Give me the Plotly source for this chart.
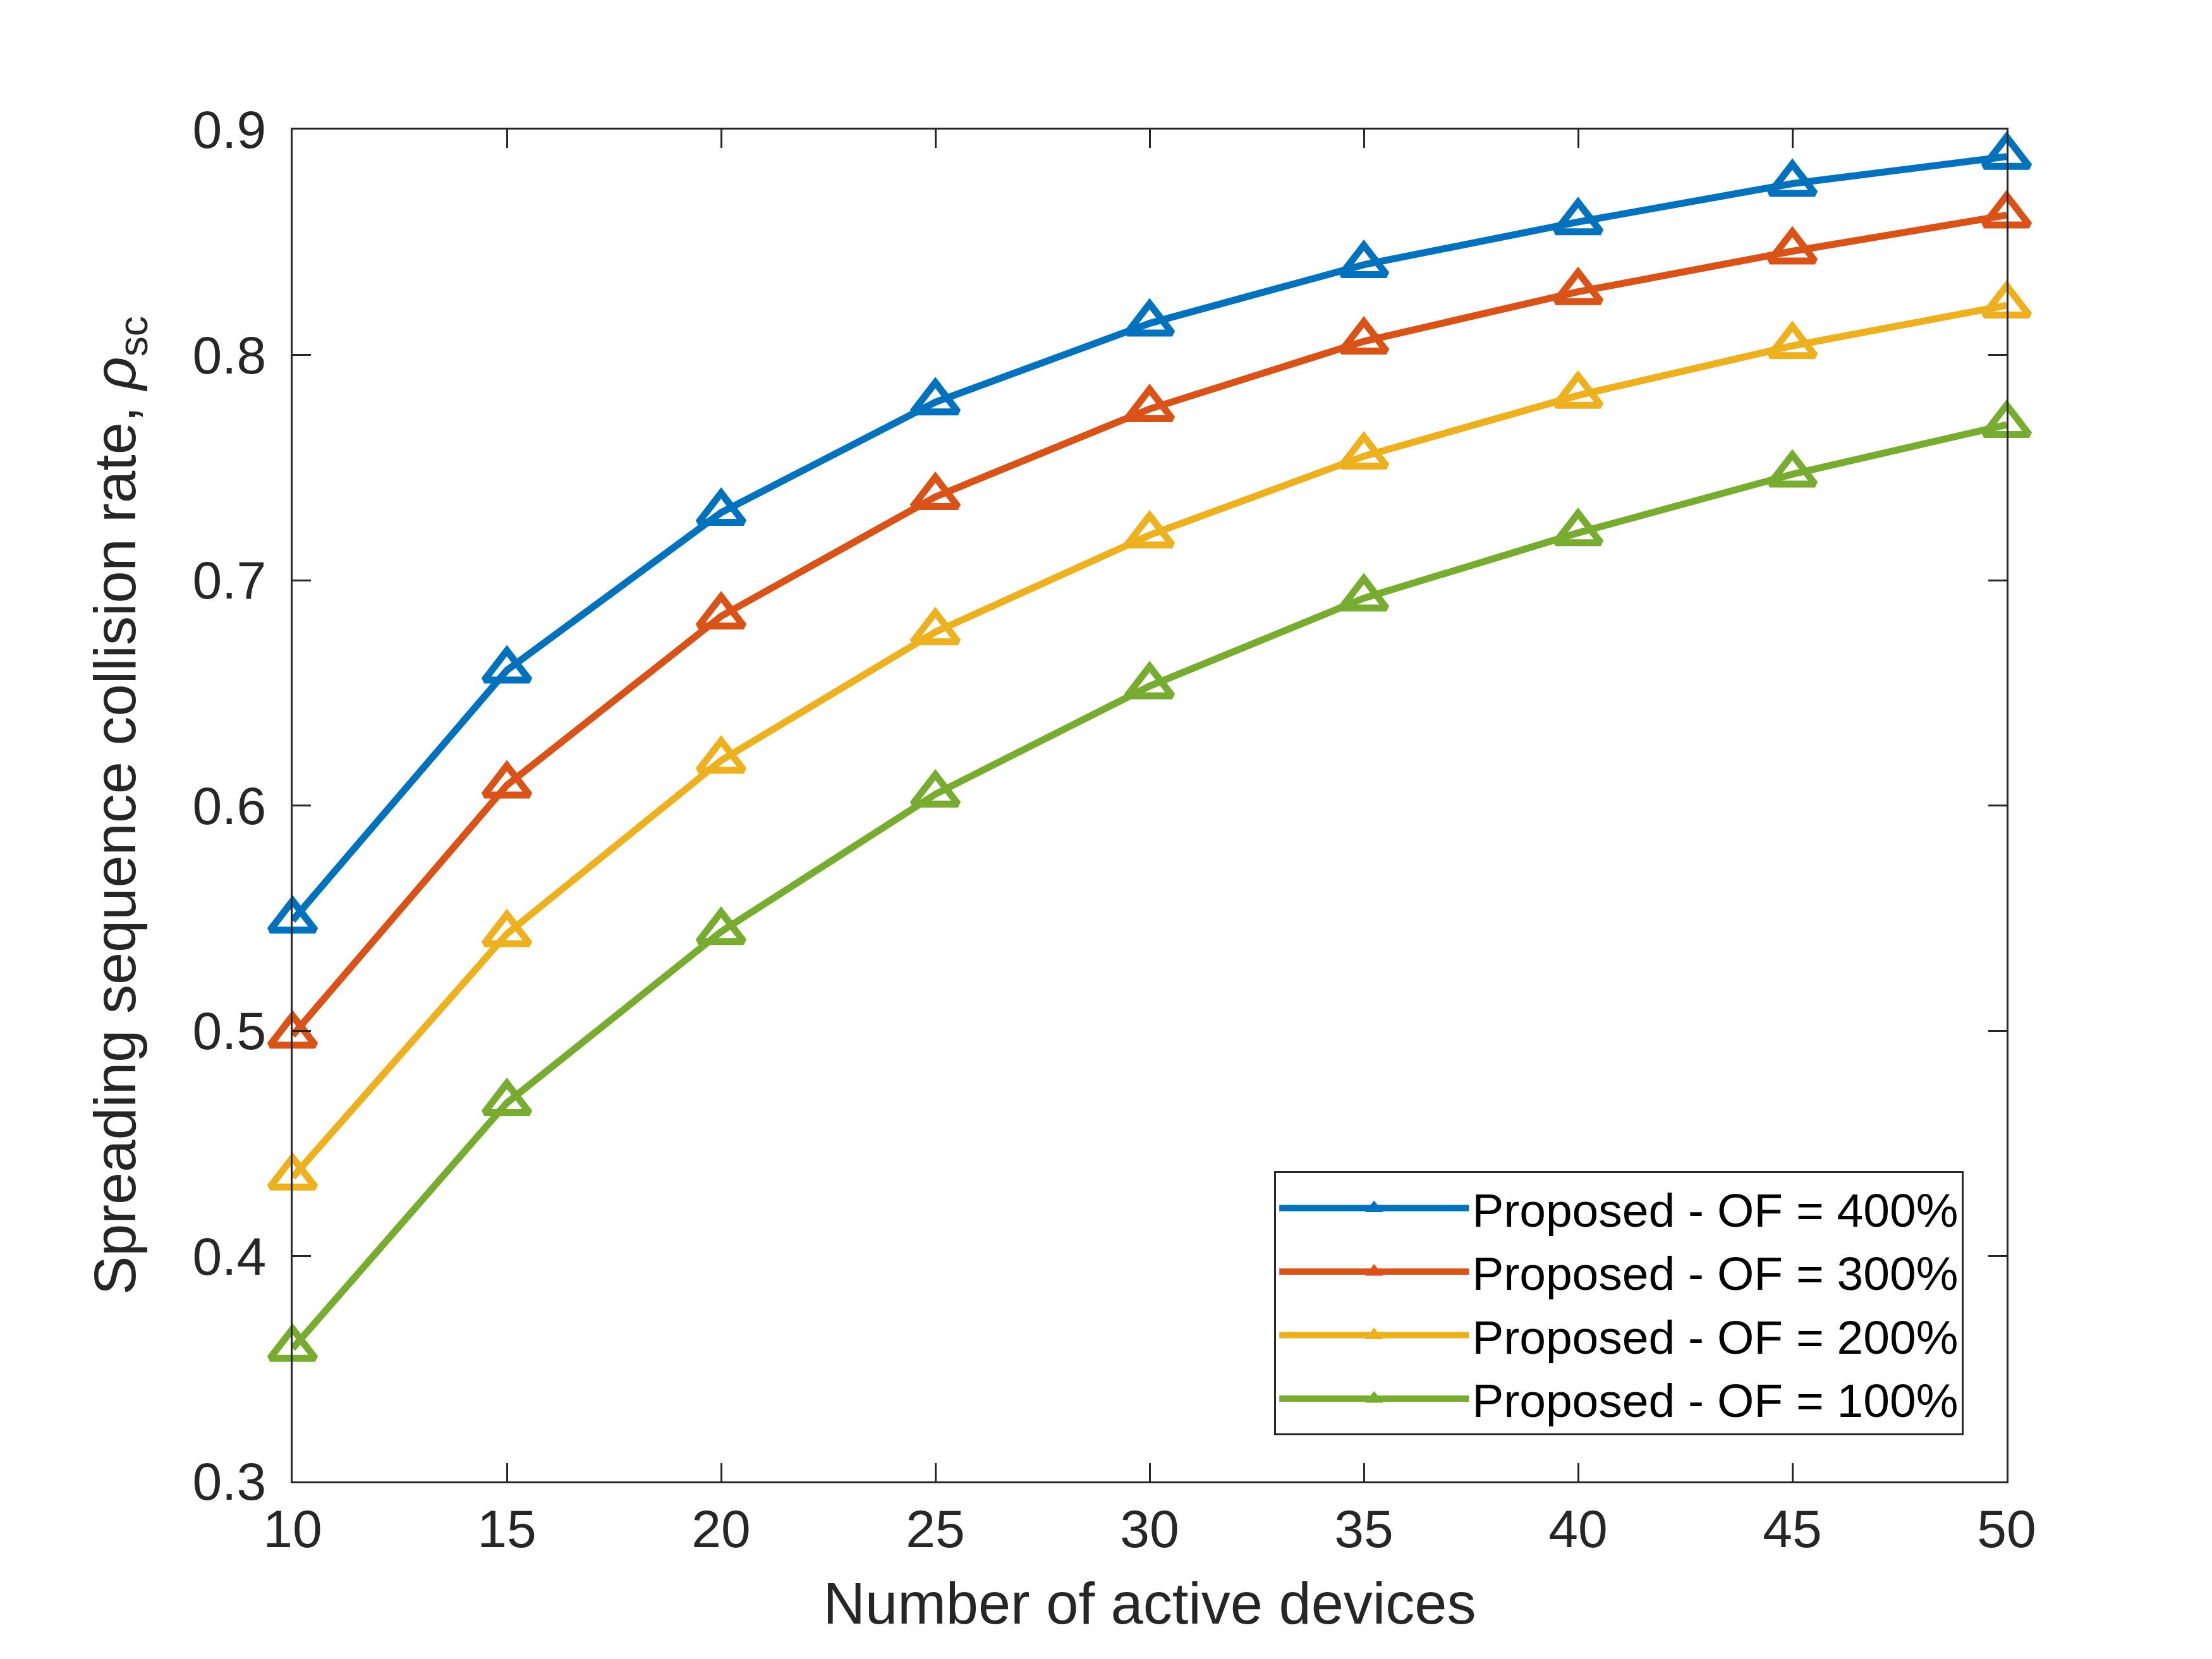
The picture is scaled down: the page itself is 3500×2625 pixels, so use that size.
import plotly.graph_objects as go

# ---- data ----
devices = [10, 15, 20, 25, 30, 35, 40, 45, 50]
series_names = [
    "Proposed - OF = 400%",
    "Proposed - OF = 300%",
    "Proposed - OF = 200%",
    "Proposed - OF = 100%",
]
of400 = [0.549, 0.660, 0.730, 0.779, 0.814, 0.840, 0.859, 0.876, 0.888]
of300 = [0.498, 0.609, 0.684, 0.737, 0.776, 0.806, 0.828, 0.846, 0.862]
of200 = [0.435, 0.543, 0.620, 0.677, 0.720, 0.755, 0.782, 0.804, 0.822]
of100 = [0.359, 0.468, 0.544, 0.605, 0.653, 0.692, 0.721, 0.747, 0.769]
x_ticks = [10, 15, 20, 25, 30, 35, 40, 45, 50]
y_ticks = [0.3, 0.4, 0.5, 0.6, 0.7, 0.8, 0.9]
y_tick_labels = ["0.3", "0.4", "0.5", "0.6", "0.7", "0.8", "0.9"]

colors = ["#0072BD", "#D95319", "#EDB120", "#77AC30"]
all_series = [of400, of300, of200, of100]

FONT = "Liberation Sans, Arial, Helvetica, sans-serif"
TXT = "#262626"

fig = go.Figure()
for name, vals, col in zip(series_names, all_series, colors):
    fig.add_trace(go.Scatter(
        x=devices, y=vals, name=name, mode="lines+markers",
        line=dict(color=col, width=11),
        marker=dict(symbol="triangle-up-open", size=62, color=col,
                    line=dict(color=col, width=11)),
        cliponaxis=False,
    ))

axis_common = dict(
    showgrid=False, zeroline=False, showline=True, linecolor=TXT, linewidth=3,
    mirror="ticks", ticks="inside", ticklen=29, tickwidth=3, tickcolor=TXT,
    tickfont=dict(family=FONT, size=84, color=TXT),
)

fig.update_layout(
    width=3500, height=2625,
    paper_bgcolor="white", plot_bgcolor="white",
    margin=dict(l=455, r=333, t=197, b=289, autoexpand=False),
    font=dict(family=FONT, color=TXT),
    xaxis=dict(
        range=[10, 50], tickvals=x_ticks,
        title=dict(text="Number of active devices",
                   font=dict(family=FONT, size=92, color=TXT), standoff=40),
        **axis_common,
    ),
    yaxis=dict(
        range=[0.3, 0.9], tickvals=y_ticks, ticktext=y_tick_labels,
        ticklabelstandoff=22,
        title=dict(text="Spreading sequence collision rate, <i>ρ</i><sub>sc</sub>",
                   font=dict(family=FONT, size=92, color=TXT), standoff=60),
        **axis_common,
    ),
    legend=dict(
        x=0.975, y=0.034, xanchor="right", yanchor="bottom",
        bgcolor="white", bordercolor=TXT, borderwidth=3,
        font=dict(family=FONT, size=75, color="black"),
        itemwidth=300,
        tracegroupgap=0,
    ),
    showlegend=True,
)

fig.write_html("out.html")
